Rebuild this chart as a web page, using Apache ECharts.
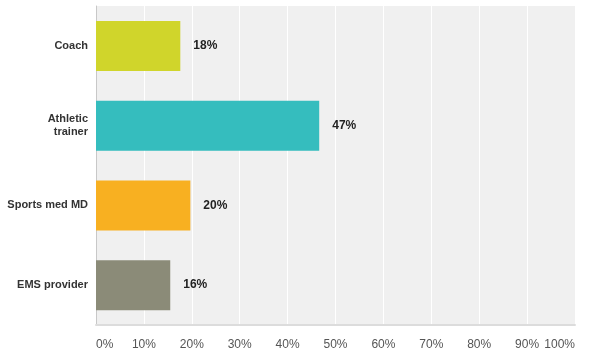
<!DOCTYPE html>
<html><head><meta charset="utf-8">
<script src="https://cdn.jsdelivr.net/npm/echarts@6/dist/echarts.min.js"></script>
<style>html,body{margin:0;padding:0;background:#fff}#c{width:590px;height:359px}</style>
</head><body><div id="c"></div>
<script>
const categories = ['Coach', 'Athletic\ntrainer', 'Sports med MD', 'EMS provider'];
const values = [17.6, 46.6, 19.7, 15.5];
const colors = ['#d0d52b', '#35bdbe', '#f8b021', '#8b8b78'];
const xTicks = [0, 10, 20, 30, 40, 50, 60, 70, 80, 90, 100];

const chart = echarts.init(document.getElementById('c'));
chart.setOption({
  animation: false,
  grid: { left: 96, right: 15, top: 6, bottom: 34, show: true, backgroundColor: '#f0f0f0', borderWidth: 0 },
  xAxis: {
    type: 'value', min: xTicks[0], max: xTicks[xTicks.length - 1], interval: 10,
    axisLine: { show: true, lineStyle: { color: '#dcdcdc', width: 2 } },
    axisTick: { show: false },
    splitLine: { show: true, lineStyle: { color: '#ffffff', width: 1 } },
    axisLabel: { formatter: '{value}%', color: '#555', fontSize: 12, fontFamily: 'Arial, Liberation Sans, sans-serif', margin: 14, alignMinLabel: 'left', alignMaxLabel: 'right' }
  },
  yAxis: {
    type: 'category', data: categories, inverse: true,
    axisLine: { show: true, lineStyle: { color: '#c8c8c8', width: 1 } },
    axisTick: { show: false },
    axisLabel: { color: '#333', fontSize: 11, fontWeight: 'bold', fontFamily: 'Arial, Liberation Sans, sans-serif', margin: 8, align: 'right', lineHeight: 13 }
  },
  series: [{
    type: 'bar', barWidth: 50,
    data: values.map((v, i) => ({ value: v, itemStyle: { color: colors[i] } })),
    label: { show: true, position: 'right', distance: 13, formatter: p => Math.round(p.value) + '%', color: '#222', fontWeight: 'bold', fontSize: 12, fontFamily: 'Arial, Liberation Sans, sans-serif' }
  }]
});
</script></body></html>
